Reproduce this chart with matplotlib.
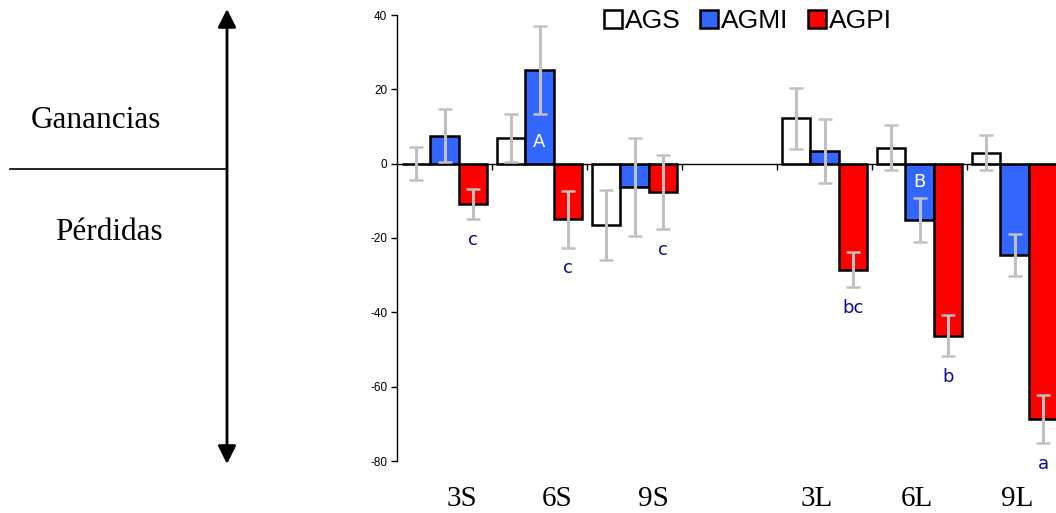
import numpy as np
import matplotlib.pyplot as plt
from matplotlib.transforms import blended_transform_factory, offset_copy

groups = ["3S", "6S", "9S", "", "3L", "6L", "9L"]
series = ["AGS", "AGMI", "AGPI"]
colors = ["white", "#3366FF", "#FF0000"]

ags = [0.0, 6.9, -16.5, np.nan, 12.2, 4.3, 3.0]
ags_err = [4.5, 6.5, 9.4, np.nan, 8.2, 6.1, 4.8]
agmi = [7.5, 25.2, -6.3, np.nan, 3.5, -15.2, -24.5]
agmi_err = [7.1, 11.9, 13.2, np.nan, 8.6, 6.0, 5.7]
agpi = [-10.8, -15.0, -7.6, np.nan, -28.5, -46.3, -68.7]
agpi_err = [4.1, 7.6, 10.0, np.nan, 4.75, 5.5, 6.4]

# significance letters: below the AGPI bars, and inside two AGMI bars
agpi_letters = ["c", "c", "c", "", "bc", "b", "a"]
agmi_letters = ["", "A", "", "", "", "B", ""]

values = [ags, agmi, agpi]
errors = [ags_err, agmi_err, agpi_err]

plt.rcParams["font.family"] = "Liberation Sans"
plt.rcParams["axes.unicode_minus"] = False

fig = plt.figure(figsize=(10.56, 5.13), dpi=100)
ax = fig.add_axes([397 / 1056, 52 / 513, 665 / 1056, 446 / 513])

x = np.arange(len(groups)) + 0.5
width = 0.3
for i, (vals, errs, c) in enumerate(zip(values, errors, colors)):
    pos = x + (i - 1) * width
    ax.bar(pos, vals, width, color=c, edgecolor="black", linewidth=1.8,
           label=series[i], zorder=2)
    ax.errorbar(pos, vals, yerr=errs, fmt="none", ecolor="#c0c0c0",
                elinewidth=2.2, capsize=5, capthick=1.8, zorder=3)

letter_color = "#0b0b9e"
for xi, v, e, t in zip(x + width, agpi, agpi_err, agpi_letters):
    if t:
        ax.annotate(t, (xi, v - e), xytext=(0, -15), textcoords="offset points",
                    ha="center", va="center", fontsize=13, color=letter_color,
                    family="DejaVu Sans", zorder=4)
for xi, v, e, t in zip(x, agmi, agmi_err, agmi_letters):
    if t:
        ax.annotate(t, (xi, v / 2), xytext=(0, -18 if v > 0 else 7),
                    textcoords="offset points", ha="center", va="center",
                    fontsize=13, color="white", family="DejaVu Sans", zorder=4)

ax.set_xlim(0, len(groups))
ax.set_ylim(-80, 40)
ax.set_yticks(np.arange(-80, 41, 20))
ax.tick_params(axis="y", direction="out", length=4, width=1, labelsize=8.5, pad=3)
ax.set_xticks(np.arange(1, len(groups)))
ax.tick_params(axis="x", direction="out", length=4, width=1, labelbottom=False)
ax.spines["bottom"].set_position(("data", 0))
ax.spines["bottom"].set_linewidth(1)
ax.spines["left"].set_linewidth(1)
ax.spines["top"].set_visible(False)
ax.spines["right"].set_visible(False)
ax.patch.set_alpha(0)

# category names sit below the plot, each nudged a little as in the slide
nudge = [17, 18, 19, 0, -8, -3, 3]
trans = blended_transform_factory(ax.transData, ax.transAxes)
for xi, name, dx in zip(x, groups, nudge):
    if name:
        ax.text(xi, -0.101, name, transform=offset_copy(trans, fig, x=dx, units="dots"),
                ha="center", va="baseline", fontsize=21, family="Liberation Serif")

fig.legend(loc="center left", bbox_to_anchor=(604 / 1056, 1 - 21 / 513), ncol=3,
           frameon=False, fontsize=19, handlelength=0.68, handleheight=0.68,
           handletextpad=0.1, columnspacing=0.75, borderaxespad=0, borderpad=0)

# gains / losses guide on the left
guide = fig.add_axes([0, 0, 1, 1], zorder=-1)
guide.set_xlim(0, 1056)
guide.set_ylim(513, 0)
guide.axis("off")
guide.annotate("", xy=(227, 9), xytext=(227, 464),
               arrowprops=dict(arrowstyle="<|-|>,head_length=1.1,head_width=0.55",
                               color="black", lw=2, shrinkA=0, shrinkB=0))
guide.plot([10, 227], [169, 169], color="black", lw=1.2)
guide.text(96, 128, "Ganancias", ha="center", va="baseline", fontsize=22.5,
           family="Liberation Serif")
guide.text(109, 240, "Pérdidas", ha="center", va="baseline", fontsize=22.5,
           family="Liberation Serif")

fig.savefig("out.png", dpi=100)
